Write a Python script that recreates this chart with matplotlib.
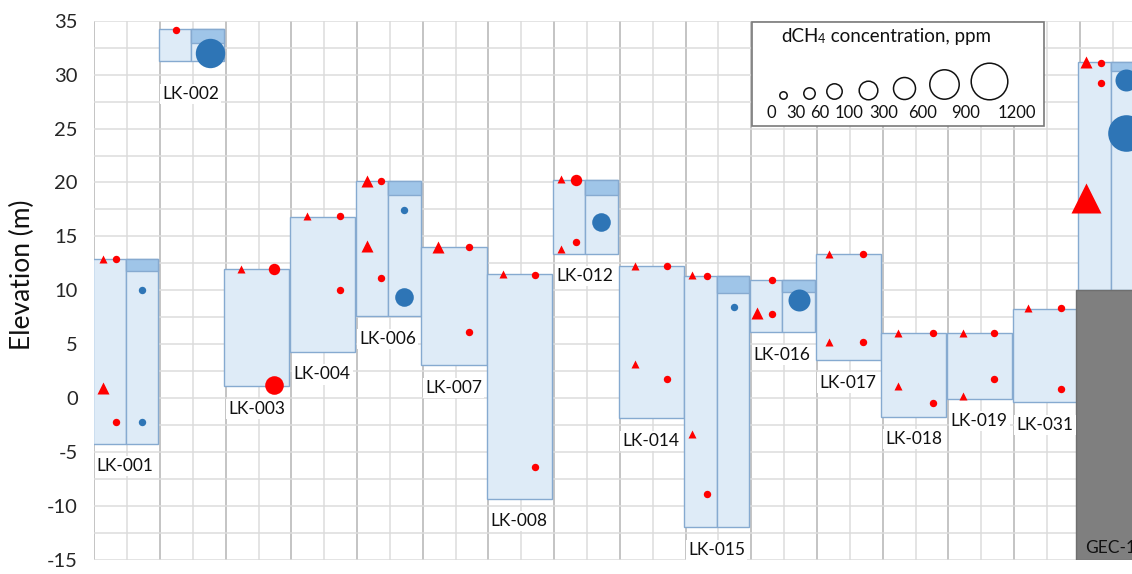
import numpy as np
import matplotlib
matplotlib.use("Agg")
import matplotlib.pyplot as plt
from matplotlib.patches import Rectangle

plt.rcParams["font.family"] = ["Lato", "DejaVu Sans"]
plt.rcParams["axes.unicode_minus"] = False

# ---- wells: top / bottom of the logged interval and bottom of the screened band (nan = single column)
wells = ["LK-001", "LK-002", "LK-003", "LK-004", "LK-006", "LK-007", "LK-008", "LK-012",
         "LK-014", "LK-015", "LK-016", "LK-017", "LK-018", "LK-019", "LK-031", "GEC-1"]
well_top = [12.9, 34.2, 11.95, 16.8, 20.1, 14.0, 11.5, 20.25,
            12.3, 11.35, 11.0, 13.4, 6.05, 6.05, 8.3, 31.15]
well_bottom = [-4.2, 31.3, 1.1, 4.3, 7.6, 3.05, -9.3, 13.4,
               -1.85, -11.95, 6.1, 3.55, -1.7, -0.05, -0.35, 10.0]
screen_bottom = [11.8, 32.9, np.nan, np.nan, 18.8, np.nan, np.nan, 18.8,
                 np.nan, 9.8, 9.85, np.nan, np.nan, np.nan, np.nan, 30.3]
bedrock_top = 10.0   # GEC-1 lower section

# ---- dissolved CH4 observations (ppm) -- red triangles
tri_x = [0.14, 0.14, 2.23, 3.24, 4.15, 4.15, 5.23, 6.22, 7.11, 7.11, 8.23, 8.23,
         9.10, 9.10, 10.09, 11.19, 11.19, 12.24, 12.24, 13.23, 13.23, 14.21, 15.09, 15.09]
tri_y = [12.95, 0.95, 11.95, 16.85, 20.15, 14.1, 14.05, 11.55, 20.3, 13.85, 12.3, 3.2,
         11.4, -3.35, 7.9, 13.35, 5.25, 6.05, 1.15, 6.05, 0.25, 8.35, 31.2, 18.6]
tri_ppm = [10, 45, 10, 10, 45, 45, 45, 10, 10, 10, 10, 10,
           10, 10, 45, 10, 10, 10, 10, 10, 10, 10, 45, 750]

# red circles
red_x = [0.33, 0.33, 1.25, 2.74, 2.74, 3.74, 3.74, 4.37, 4.37, 5.71, 5.71, 6.71, 6.71,
         7.33, 7.33, 8.72, 8.72, 9.32, 9.32, 10.32, 10.32, 11.70, 11.70, 12.76, 12.76,
         13.70, 13.70, 14.71, 14.71, 15.33, 15.33]
red_y = [12.95, -2.2, 34.15, 11.95, 1.25, 16.85, 10.05, 20.15, 11.1, 14.05, 6.1, 11.45, -6.35,
         20.2, 14.5, 12.3, 1.8, 11.35, -8.9, 10.95, 7.8, 13.35, 5.2, 6.05, -0.45,
         6.05, 1.75, 8.35, 0.9, 31.1, 29.25]
red_ppm = [10, 10, 10, 45, 200, 10, 10, 10, 10, 10, 10, 10, 10,
           45, 10, 10, 10, 10, 10, 10, 10, 10, 10, 10, 10,
           10, 10, 10, 10, 10, 10]

# blue circles
blue_x = [0.73, 0.73, 1.756, 4.72, 4.72, 7.72, 9.73, 10.72, 15.70, 15.70]
blue_y = [10.05, -2.2, 32.0, 17.45, 9.4, 16.3, 8.45, 9.1, 29.5, 24.6]
blue_ppm = [10, 10, 750, 10, 200, 200, 10, 450, 450, 1050]

# ---- size classes of the concentration scale
class_edges = [0, 30, 60, 100, 300, 600, 900, 1200]
class_radius_px = [3.7, 5.7, 7.7, 9.3, 11.0, 14.7, 18.3]

DPI = 100
PT = 72.0 / DPI


def radius_px(ppm):
    idx = np.digitize(ppm, class_edges[1:-1])
    return np.asarray(class_radius_px)[idx]


# ---- figure
fig = plt.figure(figsize=(11.32, 5.74), dpi=DPI)
ax = fig.add_axes([94.3 / 1132, 14 / 574, 1 - 94.3 / 1132, 539.3 / 574])
ax.set_xlim(0, 15.795)
ax.set_ylim(-15, 35)

for s in ax.spines.values():
    s.set_visible(False)

ax.set_xticks(np.arange(0, 16))
ax.set_xticks(np.arange(0.5, 16, 1), minor=True)
ax.set_yticks(np.arange(-15, 36, 5))
ax.set_yticks(np.arange(-12.5, 35, 5), minor=True)
ax.tick_params(axis="x", which="both", length=0, labelbottom=False)
ax.tick_params(axis="y", which="both", length=0, pad=12, labelsize=14.5, labelcolor="#262626")
ax.grid(which="major", axis="x", color="#b4b4b4", lw=1.1)
ax.grid(which="minor", axis="x", color="#dcdcdc", lw=1.1)
ax.grid(which="both", axis="y", color="#dcdcdc", lw=1.1)
ax.set_axisbelow(True)

FILL = "#deebf7"
BAND = "#9fc5e8"
EDGE = "#86aad0"

for i, name in enumerate(wells):
    x0 = i - 0.02
    w = 0.99
    top, bot, sb = well_top[i], well_bottom[i], screen_bottom[i]
    if np.isnan(sb):
        ax.add_patch(Rectangle((x0, bot), w, top - bot, fc=FILL, ec=EDGE, lw=1, zorder=1))
    else:
        half = w / 2
        ax.add_patch(Rectangle((x0, bot), half, top - bot, fc=FILL, ec=EDGE, lw=1, zorder=1))
        ax.add_patch(Rectangle((x0 + half, bot), half, top - bot, fc=FILL, ec=EDGE, lw=1, zorder=1))
        ax.add_patch(Rectangle((x0 + half, sb), half, top - sb, fc=BAND, ec=EDGE, lw=1, zorder=1.2))

# bedrock / lower section of GEC-1
gi = len(wells) - 1
ax.add_patch(Rectangle((gi - 0.05, -15), 2, bedrock_top + 15, fc="#7f7f7f", ec="#6f6f6f",
                       lw=1, zorder=1.5))

# observations
for x, y, ppm in zip(tri_x, tri_y, tri_ppm):
    r = radius_px(ppm)
    ax.plot(x, y, marker="^", ms=(2.0 * r + 1.5) * PT, color="#ff0000", mec="none",
            ls="none", zorder=3)
for x, y, ppm in zip(red_x, red_y, red_ppm):
    ax.plot(x, y, marker="o", ms=2 * radius_px(ppm) * PT, color="#ff0000", mec="none",
            ls="none", zorder=3)
for x, y, ppm in zip(blue_x, blue_y, blue_ppm):
    ax.plot(x, y, marker="o", ms=2 * radius_px(ppm) * PT, color="#2e75b6", mec="none",
            ls="none", zorder=3)

# well names
for i, name in enumerate(wells):
    off = 3.1 if name == "LK-002" else 2.1
    if name.startswith("GEC"):
        ax.text(i + 0.47, -13.85, name, ha="center", va="center", fontsize=12.5,
                color="#111111", zorder=4)
    else:
        ax.text(i + 0.47, well_bottom[i] - off, name, ha="center", va="center",
                fontsize=12.5, color="#111111", zorder=4,
                bbox=dict(fc="white", ec="none", pad=1.5))

# concentration scale box
ax.add_patch(Rectangle((10.015, 25.2), 4.44, 9.65, fc="white", ec="#7a7a7a", lw=1.2, zorder=5))
t1 = ax.text(10.45, 33.5, "dCH", ha="left", va="center", fontsize=13.5, color="#111111", zorder=6)
t2 = ax.annotate("4", xy=(1, 0), xycoords=t1, ha="left", va="bottom", fontsize=9,
                 color="#111111", zorder=6)
ax.annotate(" concentration, ppm", xy=(1, 0), xycoords=t2, ha="left", va="bottom",
            fontsize=13.5, color="#111111", zorder=6)

legend_circle_x = [10.478, 10.883, 11.263, 11.781, 12.320, 12.929, 13.614]
legend_label_x = [10.30, 10.68, 11.04, 11.49, 12.01, 12.61, 13.26, 14.04]
base_y = 27.74
px_per_unit = 539.3 / 50
for cx, r in zip(legend_circle_x, class_radius_px):
    ax.plot(cx, base_y + r / px_per_unit, marker="o", ms=2 * r * PT, mfc="none",
            mec="#111111", mew=1.1, ls="none", zorder=6)
for lx, val in zip(legend_label_x, class_edges):
    ax.text(lx, 26.41, str(val), ha="center", va="center", fontsize=12, color="#111111",
            zorder=6)

fig.text(22 / 1132, 1 - 275 / 574, "Elevation (m)", rotation=90, ha="center", va="center",
         fontsize=19, color="#111111")

fig.savefig("out.png", dpi=DPI)
